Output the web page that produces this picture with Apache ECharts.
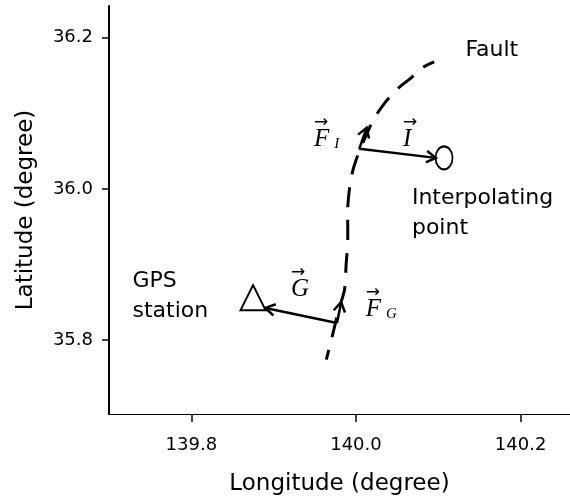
<!DOCTYPE html>
<html>
<head>
<meta charset="utf-8">
<script src="https://cdn.jsdelivr.net/npm/echarts@6/dist/echarts.min.js"></script>
<style>
  html, body { margin: 0; padding: 0; background: #fff; }
  #chart { width: 570px; height: 499px; }
</style>
</head>
<body>
<div id="chart"></div>
<script>
// == Data ====================================================================

const lonTicks = [139.8, 140.0, 140.2]
const latTicks = [35.8, 36.0, 36.2]

// fault trace, south to north
const faultLon = [139.964, 139.971, 139.979, 139.986, 139.988, 139.990, 139.990,
  139.992, 139.995, 140.000, 140.010, 140.022, 140.036, 140.049, 140.067, 140.080, 140.095]
const faultLat = [35.774, 35.804, 35.840, 35.866, 35.899, 35.933, 35.972,
  35.999, 36.019, 36.038, 36.065, 36.093, 36.115, 36.131, 36.147, 36.160, 36.168]

const stationPoint = [139.875, 35.856]
const interpPoint = [140.107, 36.041]

// vectors: [lonStart, latStart, lonEnd, latEnd]
const vecFI = [140.004, 36.053, 140.013, 36.081]
const vecI = [140.004, 36.053, 140.097, 36.041]
const vecG = [139.977, 35.8225, 139.890, 35.8424]
const vecFG = [139.977, 35.8225, 139.982, 35.850]

const textNames = ['Fault', 'Interpolating\npoint', 'GPS\nstation']
const textPos = [[140.133, 36.184], [140.068, 35.967], [139.7285, 35.858]]

const mathNames = ['{a|→}\n{f|F}{s|I}', '{a|→}\n{f|I}', '{a|→}\n{f|G}', '{a|→}\n{f|F}{s|G}']
const mathPos = [[139.949, 36.073], [140.057, 36.073], [139.921, 35.875], [140.012, 35.848]]

// == Chart ===================================================================

const font = 'DejaVu Sans'
const mathRich = {
  a: { fontFamily: 'DejaVu Sans', fontSize: 17, lineHeight: 12, color: '#000' },
  f: { fontFamily: 'Liberation Serif', fontStyle: 'italic', fontSize: 25, lineHeight: 22, color: '#000' },
  s: { fontFamily: 'Liberation Serif', fontStyle: 'italic', fontSize: 15, lineHeight: 16, color: '#000', padding: [8, 0, 0, 5] }
}

function arrowItem (params, api) {
  const p0 = api.coord([api.value(0), api.value(1)])
  const p1 = api.coord([api.value(2), api.value(3)])
  const ang = Math.atan2(p1[1] - p0[1], p1[0] - p0[0])
  const len = 11
  const spread = 0.55
  const h1 = [p1[0] - len * Math.cos(ang - spread), p1[1] - len * Math.sin(ang - spread)]
  const h2 = [p1[0] - len * Math.cos(ang + spread), p1[1] - len * Math.sin(ang + spread)]
  return {
    type: 'group',
    children: [
      { type: 'line', shape: { x1: p0[0], y1: p0[1], x2: p1[0], y2: p1[1] },
        style: { stroke: '#000', lineWidth: 2.5 } },
      { type: 'polyline', shape: { points: [h1, p1, h2] },
        style: { stroke: '#000', fill: null, lineWidth: 2.5 } }
    ]
  }
}

const option = {
  animation: false,
  backgroundColor: '#fff',
  grid: { left: 109, top: 6, right: 0, bottom: 85, containLabel: false, outerBoundsMode: 'none' },
  xAxis: {
    type: 'value',
    min: 139.7,
    max: 140.26,
    name: 'Longitude (degree)',
    nameLocation: 'middle',
    nameGap: 59,
    nameTextStyle: { fontFamily: font, fontSize: 23, color: '#000' },
    axisLine: { show: true, lineStyle: { color: '#000', width: 1.2 } },
    axisTick: { show: true, length: 8, customValues: lonTicks, lineStyle: { color: '#000', width: 1.5 } },
    axisLabel: {
      customValues: lonTicks,
      margin: 22,
      fontFamily: font,
      fontSize: 18,
      color: '#000',
      formatter: v => v.toFixed(1)
    },
    splitLine: { show: false }
  },
  yAxis: {
    type: 'value',
    min: 35.702,
    max: 36.242,
    name: 'Latitude (degree)',
    nameLocation: 'middle',
    nameGap: 71,
    nameTextStyle: { fontFamily: font, fontSize: 23, color: '#000' },
    axisLine: { show: true, lineStyle: { color: '#000', width: 2 } },
    axisTick: { show: true, length: 7, customValues: latTicks, lineStyle: { color: '#000', width: 1.5 } },
    axisLabel: {
      customValues: latTicks,
      margin: 16,
      fontFamily: font,
      fontSize: 18,
      color: '#000',
      formatter: v => v.toFixed(1)
    },
    splitLine: { show: false }
  },
  series: [
    {
      name: 'Fault',
      type: 'line',
      data: faultLon.map((x, i) => [x, faultLat[i]]),
      smooth: 0.3,
      symbol: 'none',
      lineStyle: { color: '#000', width: 3, type: [20, 13], dashOffset: 10 }
    },
    {
      name: 'vectors',
      type: 'custom',
      renderItem: arrowItem,
      data: [vecFI, vecI, vecG, vecFG]
    },
    {
      name: 'station',
      type: 'scatter',
      symbol: 'triangle',
      symbolSize: [25, 25],
      itemStyle: { color: 'rgba(0,0,0,0)', borderColor: '#000', borderWidth: 2, opacity: 1 },
      data: [stationPoint]
    },
    {
      name: 'interpolating',
      type: 'scatter',
      symbol: 'circle',
      symbolSize: [17, 23],
      itemStyle: { color: 'rgba(0,0,0,0)', borderColor: '#000', borderWidth: 2, opacity: 1 },
      data: [interpPoint]
    },
    {
      name: 'text',
      type: 'scatter',
      symbolSize: 0,
      silent: true,
      itemStyle: { opacity: 1 },
      data: textPos.map((p, i) => ({ name: textNames[i], value: p })),
      label: {
        show: true,
        position: 'right',
        distance: 0,
        formatter: p => p.name,
        fontFamily: font,
        fontSize: 22,
        lineHeight: 30,
        color: '#000',
        align: 'left',
        verticalAlign: 'middle'
      }
    },
    {
      name: 'math',
      type: 'scatter',
      symbolSize: 0,
      silent: true,
      itemStyle: { opacity: 1 },
      data: mathPos.map((p, i) => ({ name: mathNames[i], value: p })),
      label: {
        show: true,
        position: 'right',
        distance: 0,
        formatter: p => p.name,
        align: 'left',
        verticalAlign: 'middle',
        rich: mathRich
      }
    }
  ]
}

echarts.init(document.getElementById('chart')).setOption(option)
</script>
</body>
</html>
